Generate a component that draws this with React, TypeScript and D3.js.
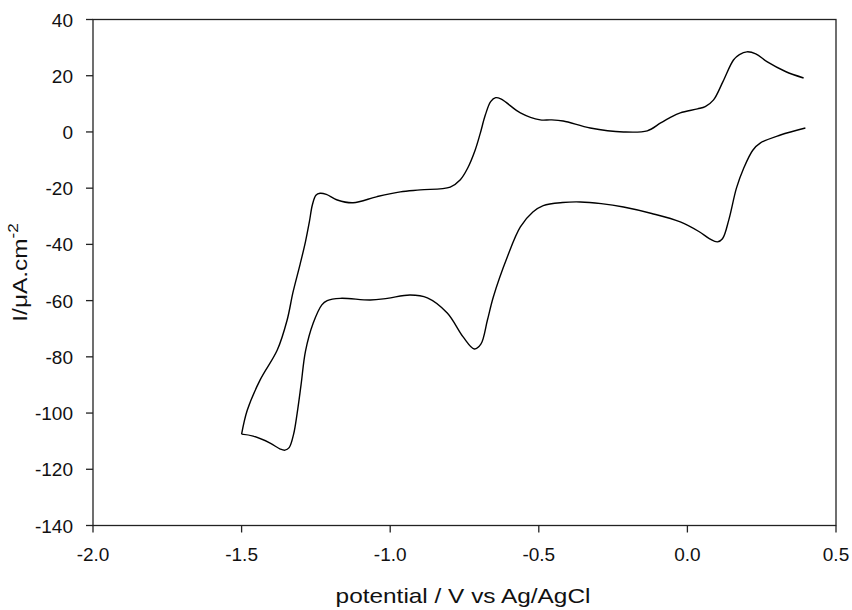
import React from "react";
import * as d3 from "d3";

// cyclic voltammogram
// lower branch, -1.5 V -> 0.4 V
const lowerE = [
  -1.5, -1.461, -1.404, -1.37, -1.354, -1.34, -1.325, -1.313, -1.3, -1.285,
  -1.259, -1.23, -1.212, -1.168, -1.067, -1.01, -0.933, -0.875, -0.808, -0.754,
  -0.717, -0.695, -0.673, -0.653, -0.606, -0.562, -0.52, -0.485, -0.42, -0.36,
  -0.29, -0.215, -0.12, -0.024, 0.04, 0.075, 0.101, 0.118, 0.14, 0.165,
  0.189, 0.22, 0.246, 0.313, 0.397,
];
const lowerI = [
  -107.5, -108.2, -110.7, -112.8, -113.2, -112.3, -107.5, -100, -90, -78,
  -68, -61.5, -60, -59.2, -59.8, -59.2, -58, -59, -64.4, -73,
  -77.2, -75.5, -67, -58.7, -44.5, -33.8, -28.5, -26.2, -25.1, -24.9,
  -25.5, -26.7, -29, -32, -35.5, -38, -39.1, -38, -31, -20,
  -13, -6.5, -3.9, -1.1, 1.4,
];
// upper branch, 0.4 V -> -1.5 V
const upperE = [
  0.391, 0.33, 0.269, 0.23, 0.2, 0.175, 0.155, 0.12, 0.088, 0.06,
  0.034, -0.024, -0.06, -0.09, -0.135, -0.215, -0.327, -0.418, -0.46, -0.495,
  -0.562, -0.61, -0.628, -0.645, -0.662, -0.68, -0.697, -0.714, -0.74, -0.764,
  -0.798, -0.899, -0.966, -1.044, -1.125, -1.178, -1.215, -1.236, -1.25, -1.262,
  -1.272, -1.285, -1.303, -1.327, -1.347, -1.38, -1.438, -1.481, -1.5,
];
const upperI = [
  19.2, 21.5, 24.9, 27.8, 28.5, 27.5, 25.6, 18, 11.4, 9,
  8.2, 6.8, 5, 3.2, 0.4, 0, 1.4, 3.9, 4.3, 4.3,
  6.8, 10.5, 11.8, 12.2, 10.8, 6, -0.5, -6.4, -13, -17,
  -19.6, -20.6, -21.3, -23, -25.2, -24.2, -22.2, -21.8, -22.5, -26,
  -32, -39, -47, -57, -67, -77.6, -88.3, -99, -107.5,
];

const xTicks = [-2.0, -1.5, -1.0, -0.5, 0.0, 0.5];
const yTicks = [-140, -120, -100, -80, -60, -40, -20, 0, 20, 40];

const W = 852;
const H = 610;
const left = 93, right = 836, top = 19.5, bottom = 525.5;
const font = "'Liberation Sans', Arial, sans-serif";

export default function App() {
  const x = d3.scaleLinear().domain([-2, 0.5]).range([left, right]);
  const y = d3.scaleLinear().domain([-140, 40]).range([bottom, top]);

  const line = d3
    .line<[number, number]>()
    .x((d) => x(d[0]))
    .y((d) => y(d[1]))
    .curve(d3.curveCatmullRom.alpha(0.5));

  const lower = lowerE.map((e, i) => [e, lowerI[i]] as [number, number]);
  const upper = upperE.map((e, i) => [e, upperI[i]] as [number, number]);

  return (
    <svg
      width={W}
      height={H}
      style={{ position: "absolute", left: 0, top: 0, background: "#fff" }}
      fontFamily={font}
    >
      <rect x={0} y={0} width={W} height={H} fill="#fff" />
      {/* frame */}
      <rect
        x={left}
        y={top}
        width={right - left}
        height={bottom - top}
        fill="none"
        stroke="#222"
        strokeWidth={1.3}
      />
      {/* x axis */}
      {xTicks.map((t) => (
        <g key={"x" + t}>
          <line x1={x(t)} x2={x(t)} y1={bottom} y2={bottom + 7} stroke="#222" strokeWidth={1.3} />
          <text x={x(t)} y={bottom + 35} fontSize={19} textAnchor="middle" fill="#111">
            {t.toFixed(1)}
          </text>
        </g>
      ))}
      {/* y axis */}
      {yTicks.map((t) => (
        <g key={"y" + t}>
          <line x1={left - 7} x2={left} y1={y(t)} y2={y(t)} stroke="#222" strokeWidth={1.3} />
          <text x={left - 20} y={y(t) + 7} fontSize={19} textAnchor="end" fill="#111">
            {t}
          </text>
        </g>
      ))}
      <text
        transform={`translate(463, 603) scale(1.22, 1)`}
        fontSize={20}
        textAnchor="middle"
        fill="#111"
      >
        potential / V vs Ag/AgCl
      </text>
      <text
        transform={`translate(27, ${(top + bottom) / 2}) rotate(-90) scale(1.22, 1)`}
        fontSize={20}
        textAnchor="middle"
        fill="#111"
      >
        I/μA.cm<tspan dy={-9} fontSize={14}>-2</tspan>
      </text>
      {/* curve */}
      <path d={line(lower) ?? ""} fill="none" stroke="#000" strokeWidth={1.4} />
      <path d={line(upper) ?? ""} fill="none" stroke="#000" strokeWidth={1.4} />
    </svg>
  );
}
